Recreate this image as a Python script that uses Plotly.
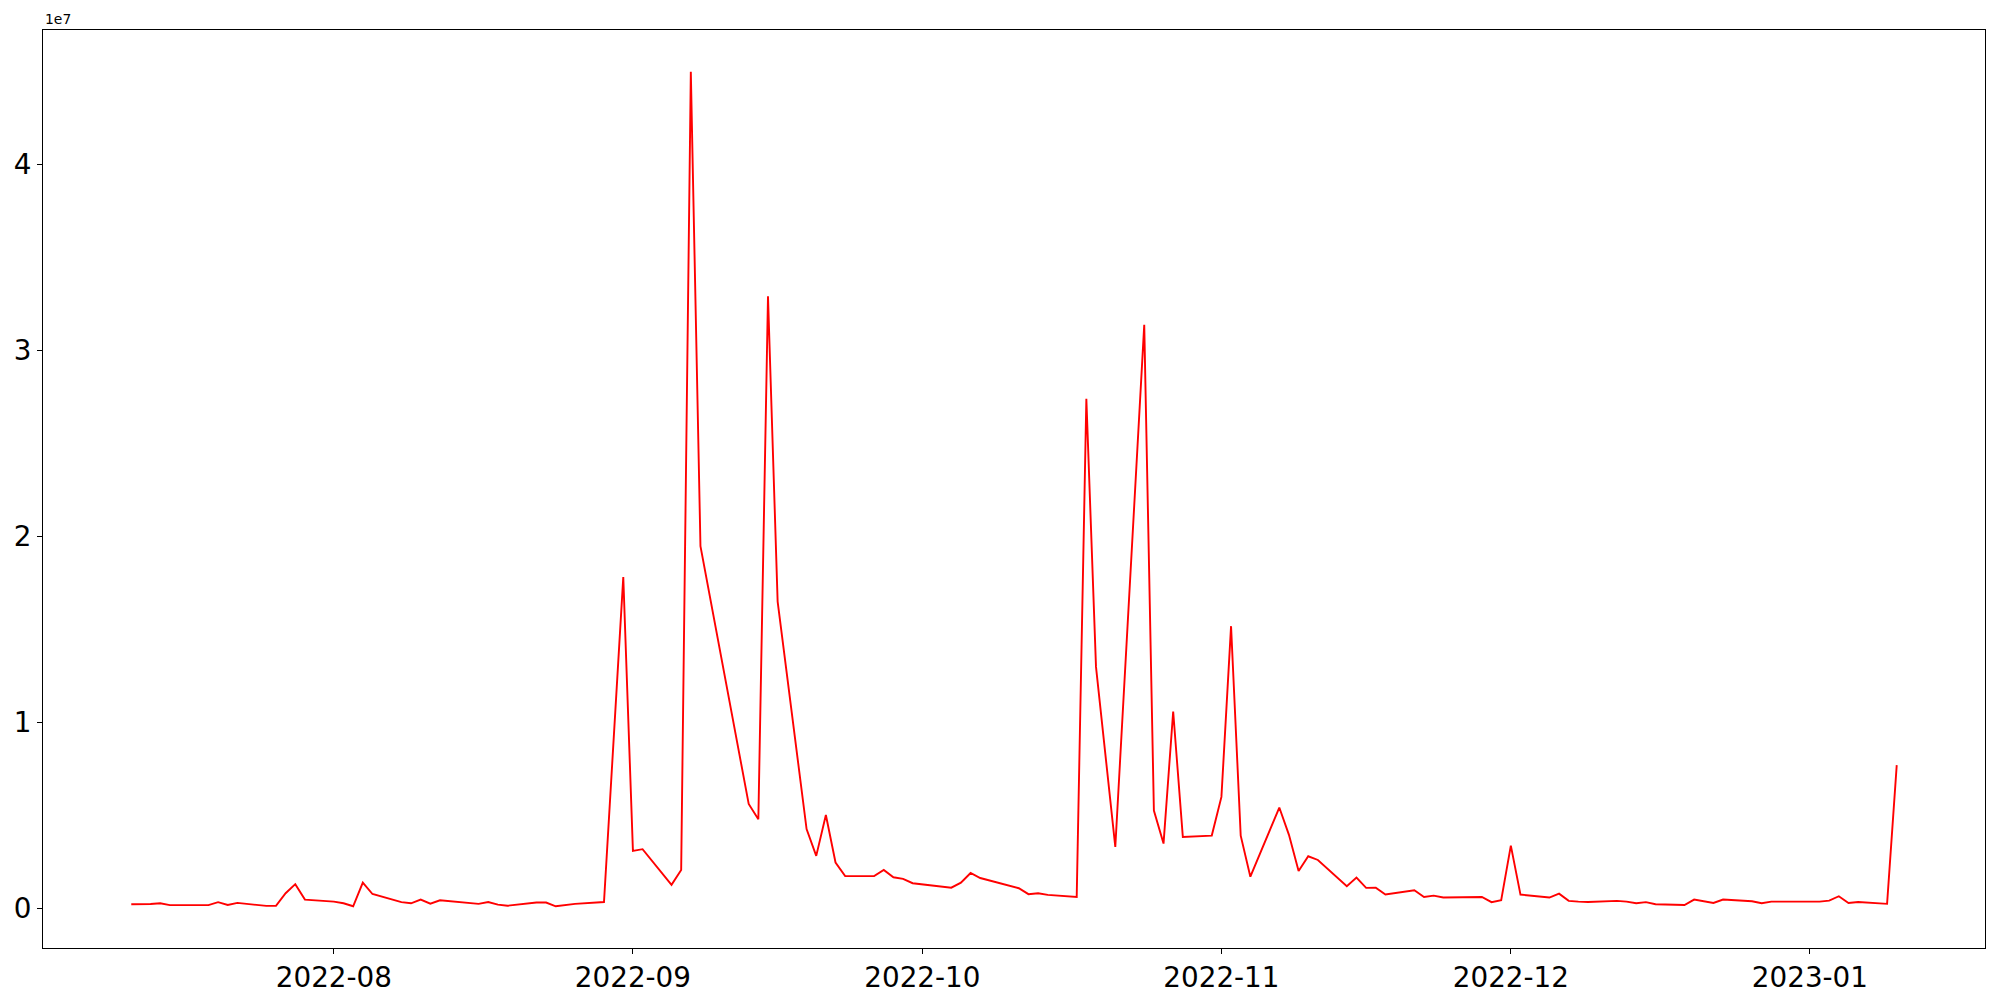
import pandas as pd
import plotly.graph_objects as go

dates = [
    "2022-07-11", "2022-07-12", "2022-07-13", "2022-07-14", "2022-07-15", "2022-07-18", "2022-07-19",
    "2022-07-20", "2022-07-21", "2022-07-22", "2022-07-25", "2022-07-26", "2022-07-27", "2022-07-28",
    "2022-07-29", "2022-08-01", "2022-08-02", "2022-08-03", "2022-08-04", "2022-08-05", "2022-08-08",
    "2022-08-09", "2022-08-10", "2022-08-11", "2022-08-12", "2022-08-16", "2022-08-17", "2022-08-18",
    "2022-08-19", "2022-08-22", "2022-08-23", "2022-08-24", "2022-08-26", "2022-08-29", "2022-08-31",
    "2022-09-01", "2022-09-02", "2022-09-05", "2022-09-06", "2022-09-07", "2022-09-08", "2022-09-13",
    "2022-09-14", "2022-09-15", "2022-09-16", "2022-09-19", "2022-09-20", "2022-09-21", "2022-09-22",
    "2022-09-23", "2022-09-26", "2022-09-27", "2022-09-28", "2022-09-29", "2022-09-30", "2022-10-04",
    "2022-10-05", "2022-10-06", "2022-10-07", "2022-10-11", "2022-10-12", "2022-10-13", "2022-10-14",
    "2022-10-17", "2022-10-18", "2022-10-19", "2022-10-21", "2022-10-24", "2022-10-25", "2022-10-26",
    "2022-10-27", "2022-10-28", "2022-10-31", "2022-11-01", "2022-11-02", "2022-11-03", "2022-11-04",
    "2022-11-07", "2022-11-08", "2022-11-09", "2022-11-10", "2022-11-11", "2022-11-14", "2022-11-15",
    "2022-11-16", "2022-11-17", "2022-11-18", "2022-11-21", "2022-11-22", "2022-11-23", "2022-11-24",
    "2022-11-28", "2022-11-29", "2022-11-30", "2022-12-01", "2022-12-02", "2022-12-05", "2022-12-06",
    "2022-12-07", "2022-12-08", "2022-12-09", "2022-12-12", "2022-12-13", "2022-12-14", "2022-12-15",
    "2022-12-16", "2022-12-19", "2022-12-20", "2022-12-21", "2022-12-22", "2022-12-23", "2022-12-26",
    "2022-12-27", "2022-12-28", "2022-12-29", "2022-12-30", "2023-01-02", "2023-01-03", "2023-01-04",
    "2023-01-05", "2023-01-06", "2023-01-09", "2023-01-10",
]

values_1e7 = [
    0.021, 0.021, 0.022, 0.026, 0.016, 0.016, 0.016,
    0.032, 0.017, 0.028, 0.012, 0.012, 0.080, 0.129,
    0.046, 0.035, 0.026, 0.010, 0.137, 0.076, 0.032,
    0.026, 0.046, 0.024, 0.042, 0.023, 0.033, 0.019,
    0.013, 0.030, 0.030, 0.010, 0.023, 0.033, 1.780,
    0.308, 0.317, 0.125, 0.205, 4.497, 1.946, 0.560,
    0.478, 3.290, 1.648, 0.425, 0.281, 0.501, 0.245,
    0.172, 0.173, 0.205, 0.166, 0.157, 0.134, 0.110,
    0.137, 0.189, 0.162, 0.107, 0.075, 0.080, 0.071,
    0.060, 2.738, 1.297, 0.329, 3.136, 0.525, 0.347,
    1.057, 0.383, 0.390, 0.598, 1.516, 0.390, 0.169,
    0.541, 0.394, 0.200, 0.279, 0.259, 0.118, 0.164,
    0.109, 0.110, 0.073, 0.096, 0.060, 0.067, 0.057,
    0.060, 0.032, 0.043, 0.336, 0.073, 0.057, 0.078,
    0.039, 0.035, 0.033, 0.039, 0.035, 0.026, 0.032,
    0.021, 0.017, 0.046, 0.037, 0.028, 0.046, 0.037,
    0.026, 0.035, 0.035, 0.035, 0.035, 0.040, 0.064,
    0.028, 0.033, 0.023, 0.769,
]

y_tick_vals_1e7 = [0, 1, 2, 3, 4]
y_tick_text = ["0", "1", "2", "3", "4"]
x_tick_dates = ["2022-08-01", "2022-09-01", "2022-10-01", "2022-11-01", "2022-12-01", "2023-01-01"]
x_tick_text = ["2022-08", "2022-09", "2022-10", "2022-11", "2022-12", "2023-01"]
offset_label = "1e7"

SCALE = 1e7
x = pd.to_datetime(dates)
y = [v * SCALE for v in values_1e7]

# matplotlib-like 5% margins
span = x.max() - x.min()
x_range = [x.min() - 0.05 * span, x.max() + 0.05 * span]
ymin, ymax = min(y), max(y)
ypad = 0.05 * (ymax - ymin)
y_range = [ymin - ypad, ymax + ypad]

FONT = "DejaVu Sans"

fig = go.Figure()
fig.add_trace(go.Scatter(x=x, y=y, mode="lines", line=dict(color="#ff0000", width=1.9),
                         showlegend=False))

axis_common = dict(showgrid=False, zeroline=False, showline=True, linecolor="black", linewidth=1,
                   mirror=True, ticks="outside", ticklen=5, tickwidth=1, tickcolor="black",
                   automargin=False,
                   tickfont=dict(family=FONT, size=27.8, color="black"))

fig.update_xaxes(range=x_range, tickvals=pd.to_datetime(x_tick_dates), ticktext=x_tick_text,
                 **axis_common)
fig.update_yaxes(range=y_range, tickvals=[v * SCALE for v in y_tick_vals_1e7], ticktext=y_tick_text,
                 **axis_common)

fig.add_annotation(text=offset_label, xref="paper", yref="paper", x=0, y=1, xanchor="left",
                   yanchor="bottom", yshift=1, showarrow=False,
                   font=dict(family=FONT, size=13.9, color="black"))

fig.update_layout(width=2000, height=1000, paper_bgcolor="white", plot_bgcolor="white",
                  margin=dict(l=43, r=15, t=30, b=52), font=dict(family=FONT))

fig.write_html("out.html", config={"displayModeBar": False},
               post_script="document.body.style.margin='0';")
